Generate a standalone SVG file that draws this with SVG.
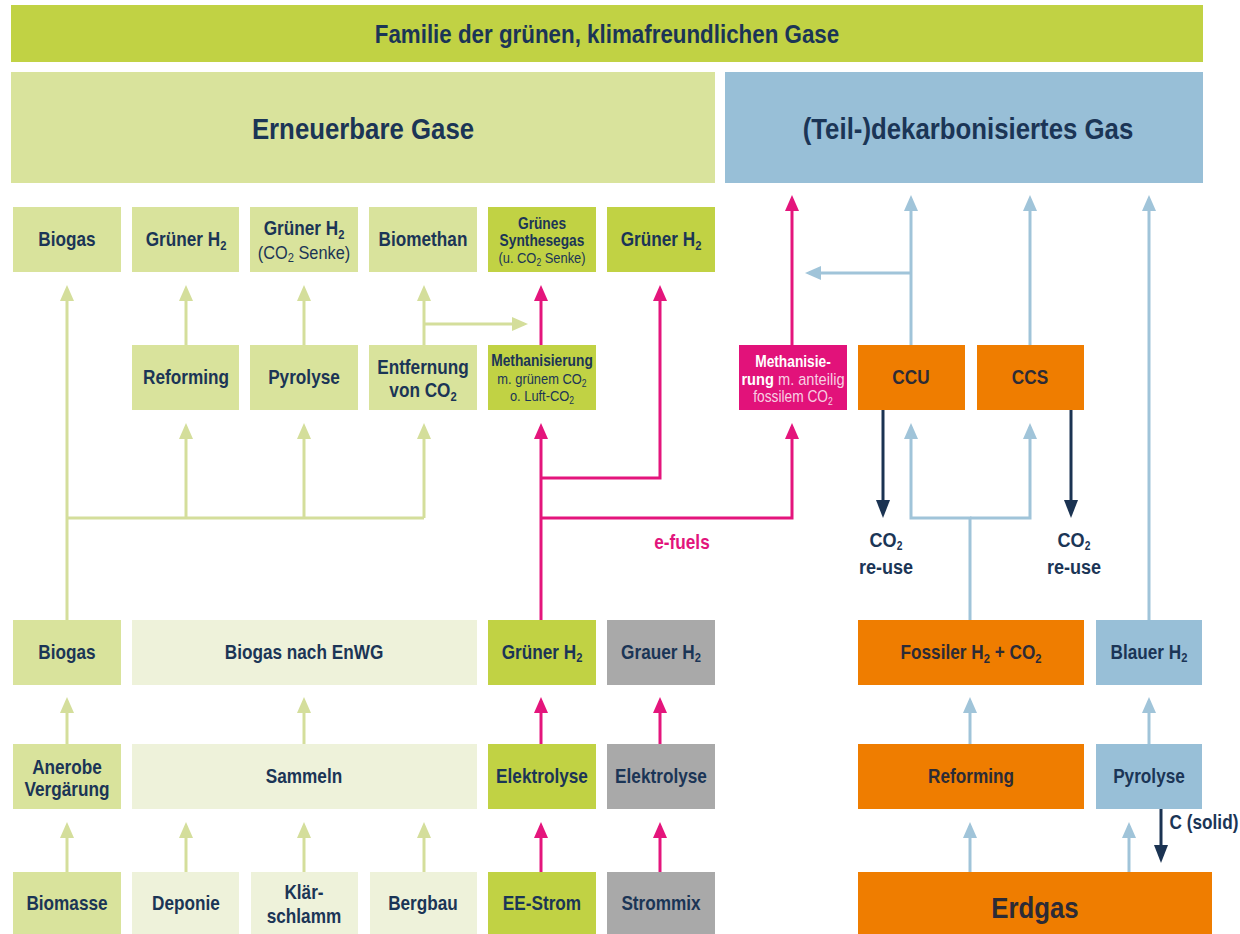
<svg xmlns="http://www.w3.org/2000/svg" width="1240" height="934" viewBox="0 0 1240 934">
<style>
text{font-family:"Liberation Sans",Arial,sans-serif;font-weight:700;fill:#1b3556;text-anchor:middle;font-size:20px;transform-box:fill-box;transform-origin:center;transform:scaleX(.86)}
.n{font-weight:400}
.sm{font-size:16px}
.sr{font-size:15px;font-weight:400}
.big{font-size:30px}
.co{font-size:21px}
.wh{fill:#ffffff}
.pk{fill:#f8cfe2}
.dk{fill:#2c2b36}
.mg{fill:#e2147c}
.lg{fill:#d9e39c}
.vl{fill:#eef2da}
.bg{fill:#c1d244}
.gr{fill:#a9a9a9}
.bl{fill:#98bfd7}
.or{fill:#ef7d00}
.ma{fill:#e2127a}
.cg{stroke:#d4de9b;stroke-width:3;fill:none}
.cp{stroke:#e4157c;stroke-width:3;fill:none}
.cb{stroke:#a0c4d9;stroke-width:3;fill:none}
.cn{stroke:#1b3352;stroke-width:3;fill:none}
</style>
<defs>
<marker id="ag" viewBox="0 0 16 14" markerWidth="16" markerHeight="14" refX="12" refY="7" orient="auto" markerUnits="userSpaceOnUse"><path d="M0,0 L16,7 L0,14 z" fill="#d4de9b"/></marker>
<marker id="ap" viewBox="0 0 16 14" markerWidth="16" markerHeight="14" refX="12" refY="7" orient="auto" markerUnits="userSpaceOnUse"><path d="M0,0 L16,7 L0,14 z" fill="#e4157c"/></marker>
<marker id="ab" viewBox="0 0 16 14" markerWidth="16" markerHeight="14" refX="12" refY="7" orient="auto" markerUnits="userSpaceOnUse"><path d="M0,0 L16,7 L0,14 z" fill="#a0c4d9"/></marker>
<marker id="an" viewBox="0 0 18 14" markerWidth="18" markerHeight="14" refX="13" refY="7" orient="auto" markerUnits="userSpaceOnUse"><path d="M0,0 L18,7 L0,14 z" fill="#1b3352"/></marker>
</defs>

<g id="connectors">
<!-- green -->
<path class="cg" d="M67,620 V289" marker-end="url(#ag)"/>
<path class="cg" d="M67,518 H424"/>
<path class="cg" d="M186,518 V427" marker-end="url(#ag)"/>
<path class="cg" d="M304,518 V427" marker-end="url(#ag)"/>
<path class="cg" d="M424,518 V427" marker-end="url(#ag)"/>
<path class="cg" d="M186,345 V289" marker-end="url(#ag)"/>
<path class="cg" d="M304,345 V289" marker-end="url(#ag)"/>
<path class="cg" d="M424,345 V289" marker-end="url(#ag)"/>
<path class="cg" d="M424,324 H524" marker-end="url(#ag)"/>
<path class="cg" d="M67,872 V826" marker-end="url(#ag)"/>
<path class="cg" d="M67,744 V701" marker-end="url(#ag)"/>
<path class="cg" d="M186,872 V826" marker-end="url(#ag)"/>
<path class="cg" d="M304,872 V826" marker-end="url(#ag)"/>
<path class="cg" d="M424,872 V826" marker-end="url(#ag)"/>
<path class="cg" d="M304,744 V701" marker-end="url(#ag)"/>
<!-- pink -->
<path class="cp" d="M541,620 V427" marker-end="url(#ap)"/>
<path class="cp" d="M541,478 H660 V289" marker-end="url(#ap)"/>
<path class="cp" d="M541,518 H792 V427" marker-end="url(#ap)"/>
<path class="cp" d="M541,345 V289" marker-end="url(#ap)"/>
<path class="cp" d="M792,345 V199" marker-end="url(#ap)"/>
<path class="cp" d="M541,872 V826" marker-end="url(#ap)"/>
<path class="cp" d="M541,744 V701" marker-end="url(#ap)"/>
<path class="cp" d="M660,872 V826" marker-end="url(#ap)"/>
<path class="cp" d="M660,744 V701" marker-end="url(#ap)"/>
<!-- light blue -->
<path class="cb" d="M911,345 V199" marker-end="url(#ab)"/>
<path class="cb" d="M1030,345 V199" marker-end="url(#ab)"/>
<path class="cb" d="M1149,620 V199" marker-end="url(#ab)"/>
<path class="cb" d="M911,273 H809" marker-end="url(#ab)"/>
<path class="cb" d="M970,620 V518 H911 V427" marker-end="url(#ab)"/>
<path class="cb" d="M970,518 H1030 V427" marker-end="url(#ab)"/>
<path class="cb" d="M970,744 V701" marker-end="url(#ab)"/>
<path class="cb" d="M970,872 V826" marker-end="url(#ab)"/>
<path class="cb" d="M1149,744 V701" marker-end="url(#ab)"/>
<path class="cb" d="M1129,872 V826" marker-end="url(#ab)"/>
<!-- navy -->
<path class="cn" d="M883,410 V513" marker-end="url(#an)"/>
<path class="cn" d="M1071,410 V513" marker-end="url(#an)"/>
<path class="cn" d="M1161,809 V858" marker-end="url(#an)"/>
</g>

<g id="labels">
<text class="mg" x="682" y="549">e-fuels</text>
<text class="co" x="886" y="547">CO<tspan font-size="12" dy="3">2</tspan></text>
<text class="co" x="886" y="574">re-use</text>
<text class="co" x="1074" y="547">CO<tspan font-size="12" dy="3">2</tspan></text>
<text class="co" x="1074" y="574">re-use</text>
<text x="1204" y="829">C (solid)</text>
</g>

<g id="title"><rect class="bg" x="11" y="5" width="1192" height="57"/><text x="607" y="43" style="font-size:26px">Familie der grünen, klimafreundlichen Gase</text></g>
<g id="erneuerbare"><rect class="lg" x="11" y="72" width="704" height="111"/><text class="big" x="363" y="139">Erneuerbare Gase</text></g>
<g id="dekarbonisiert"><rect class="bl" x="725" y="72" width="478" height="111"/><text class="big" x="968" y="139">(Teil-)dekarbonisiertes Gas</text></g>

<!-- Row A -->
<g id="a-biogas"><rect class="lg" x="13" y="207" width="108" height="65"/><text x="67" y="246">Biogas</text></g>
<g id="a-gruenerh2"><rect class="lg" x="132" y="207" width="107" height="65"/><text x="186" y="246">Grüner H<tspan font-size="13" dy="4">2</tspan></text></g>
<g id="a-gruenerh2-senke"><rect class="lg" x="250" y="207" width="108" height="65"/><text x="304" y="235">Grüner H<tspan font-size="13" dy="4">2</tspan></text><text class="n" x="304" y="259" style="font-size:19px">(CO<tspan font-size="13" dy="3">2</tspan><tspan dy="-3"> Senke)</tspan></text></g>
<g id="a-biomethan"><rect class="lg" x="369" y="207" width="108" height="65"/><text x="423" y="246">Biomethan</text></g>
<g id="a-synthesegas"><rect class="bg" x="488" y="207" width="108" height="65"/><text class="sm" x="542" y="229">Grünes</text><text class="sm" x="542" y="246">Synthesegas</text><text class="sr" x="542" y="263">(u. CO<tspan font-size="10" dy="3">2</tspan><tspan dy="-3"> Senke)</tspan></text></g>
<g id="a-gruenerh2-b"><rect class="bg" x="607" y="207" width="108" height="65"/><text x="661" y="246">Grüner H<tspan font-size="13" dy="4">2</tspan></text></g>

<!-- Row B -->
<g id="b-reforming"><rect class="lg" x="132" y="345" width="107" height="65"/><text x="186" y="384">Reforming</text></g>
<g id="b-pyrolyse"><rect class="lg" x="250" y="345" width="108" height="65"/><text x="304" y="384">Pyrolyse</text></g>
<g id="b-entfernung"><rect class="lg" x="369" y="345" width="108" height="65"/><text x="423" y="374">Entfernung</text><text x="423" y="397">von CO<tspan font-size="13" dy="4">2</tspan></text></g>
<g id="b-methanisierung"><rect class="bg" x="488" y="345" width="108" height="65"/><text class="sm" x="542" y="366">Methanisierung</text><text class="sr" x="542" y="384">m. grünem CO<tspan font-size="10" dy="3">2</tspan></text><text class="sr" x="542" y="401">o. Luft-CO<tspan font-size="10" dy="3">2</tspan></text></g>
<g id="b-methanisierung-fossil"><rect class="ma" x="739" y="345" width="108" height="65"/><text class="sm wh" x="793" y="367">Methanisie-</text><text class="sr pk" x="793" y="385" style="font-size:17px"><tspan class="wh" font-weight="700">rung</tspan> m. anteilig</text><text class="sr pk" x="793" y="402" style="font-size:16px">fossilem CO<tspan font-size="10" dy="3">2</tspan></text></g>
<g id="b-ccu"><rect class="or" x="858" y="345" width="107" height="65"/><text class="dk" x="911" y="384">CCU</text></g>
<g id="b-ccs"><rect class="or" x="977" y="345" width="107" height="65"/><text class="dk" x="1030" y="384">CCS</text></g>

<!-- Row C -->
<g id="c-biogas"><rect class="lg" x="13" y="620" width="108" height="65"/><text x="67" y="659">Biogas</text></g>
<g id="c-biogas-enwg"><rect class="vl" x="132" y="620" width="345" height="65"/><text x="304" y="659">Biogas nach EnWG</text></g>
<g id="c-gruenerh2"><rect class="bg" x="488" y="620" width="108" height="65"/><text x="542" y="659">Grüner H<tspan font-size="13" dy="3">2</tspan></text></g>
<g id="c-grauerh2"><rect class="gr" x="607" y="620" width="108" height="65"/><text x="661" y="659">Grauer H<tspan font-size="13" dy="3">2</tspan></text></g>
<g id="c-fossilerh2"><rect class="or" x="858" y="620" width="226" height="65"/><text class="dk" x="971" y="659">Fossiler H<tspan font-size="13" dy="4">2</tspan><tspan dy="-4"> + CO</tspan><tspan font-size="13" dy="4">2</tspan></text></g>
<g id="c-blauerh2"><rect class="bl" x="1096" y="620" width="106" height="65"/><text x="1149" y="659">Blauer H<tspan font-size="13" dy="3">2</tspan></text></g>

<!-- Row D -->
<g id="d-anerobe"><rect class="lg" x="13" y="744" width="108" height="65"/><text x="67" y="774">Anerobe</text><text x="67" y="796">Vergärung</text></g>
<g id="d-sammeln"><rect class="vl" x="132" y="744" width="345" height="65"/><text x="304" y="783">Sammeln</text></g>
<g id="d-elektrolyse"><rect class="bg" x="488" y="744" width="108" height="65"/><text x="542" y="783">Elektrolyse</text></g>
<g id="d-elektrolyse-grau"><rect class="gr" x="607" y="744" width="108" height="65"/><text x="661" y="783">Elektrolyse</text></g>
<g id="d-reforming"><rect class="or" x="858" y="744" width="226" height="65"/><text class="dk" x="971" y="783">Reforming</text></g>
<g id="d-pyrolyse"><rect class="bl" x="1096" y="744" width="106" height="65"/><text x="1149" y="783">Pyrolyse</text></g>

<!-- Row E -->
<g id="e-biomasse"><rect class="lg" x="13" y="872" width="108" height="62"/><text x="67" y="910">Biomasse</text></g>
<g id="e-deponie"><rect class="vl" x="132" y="872" width="107" height="62"/><text x="186" y="910">Deponie</text></g>
<g id="e-klaerschlamm"><rect class="vl" x="251" y="872" width="107" height="62"/><text x="304" y="899">Klär-</text><text x="304" y="923">schlamm</text></g>
<g id="e-bergbau"><rect class="vl" x="370" y="872" width="107" height="62"/><text x="423" y="910">Bergbau</text></g>
<g id="e-eestrom"><rect class="bg" x="488" y="872" width="108" height="62"/><text x="542" y="910">EE-Strom</text></g>
<g id="e-strommix"><rect class="gr" x="607" y="872" width="108" height="62"/><text x="661" y="910">Strommix</text></g>
<g id="e-erdgas"><rect class="or" x="858" y="872" width="354" height="62"/><text class="big dk" x="1035" y="918">Erdgas</text></g>
</svg>
